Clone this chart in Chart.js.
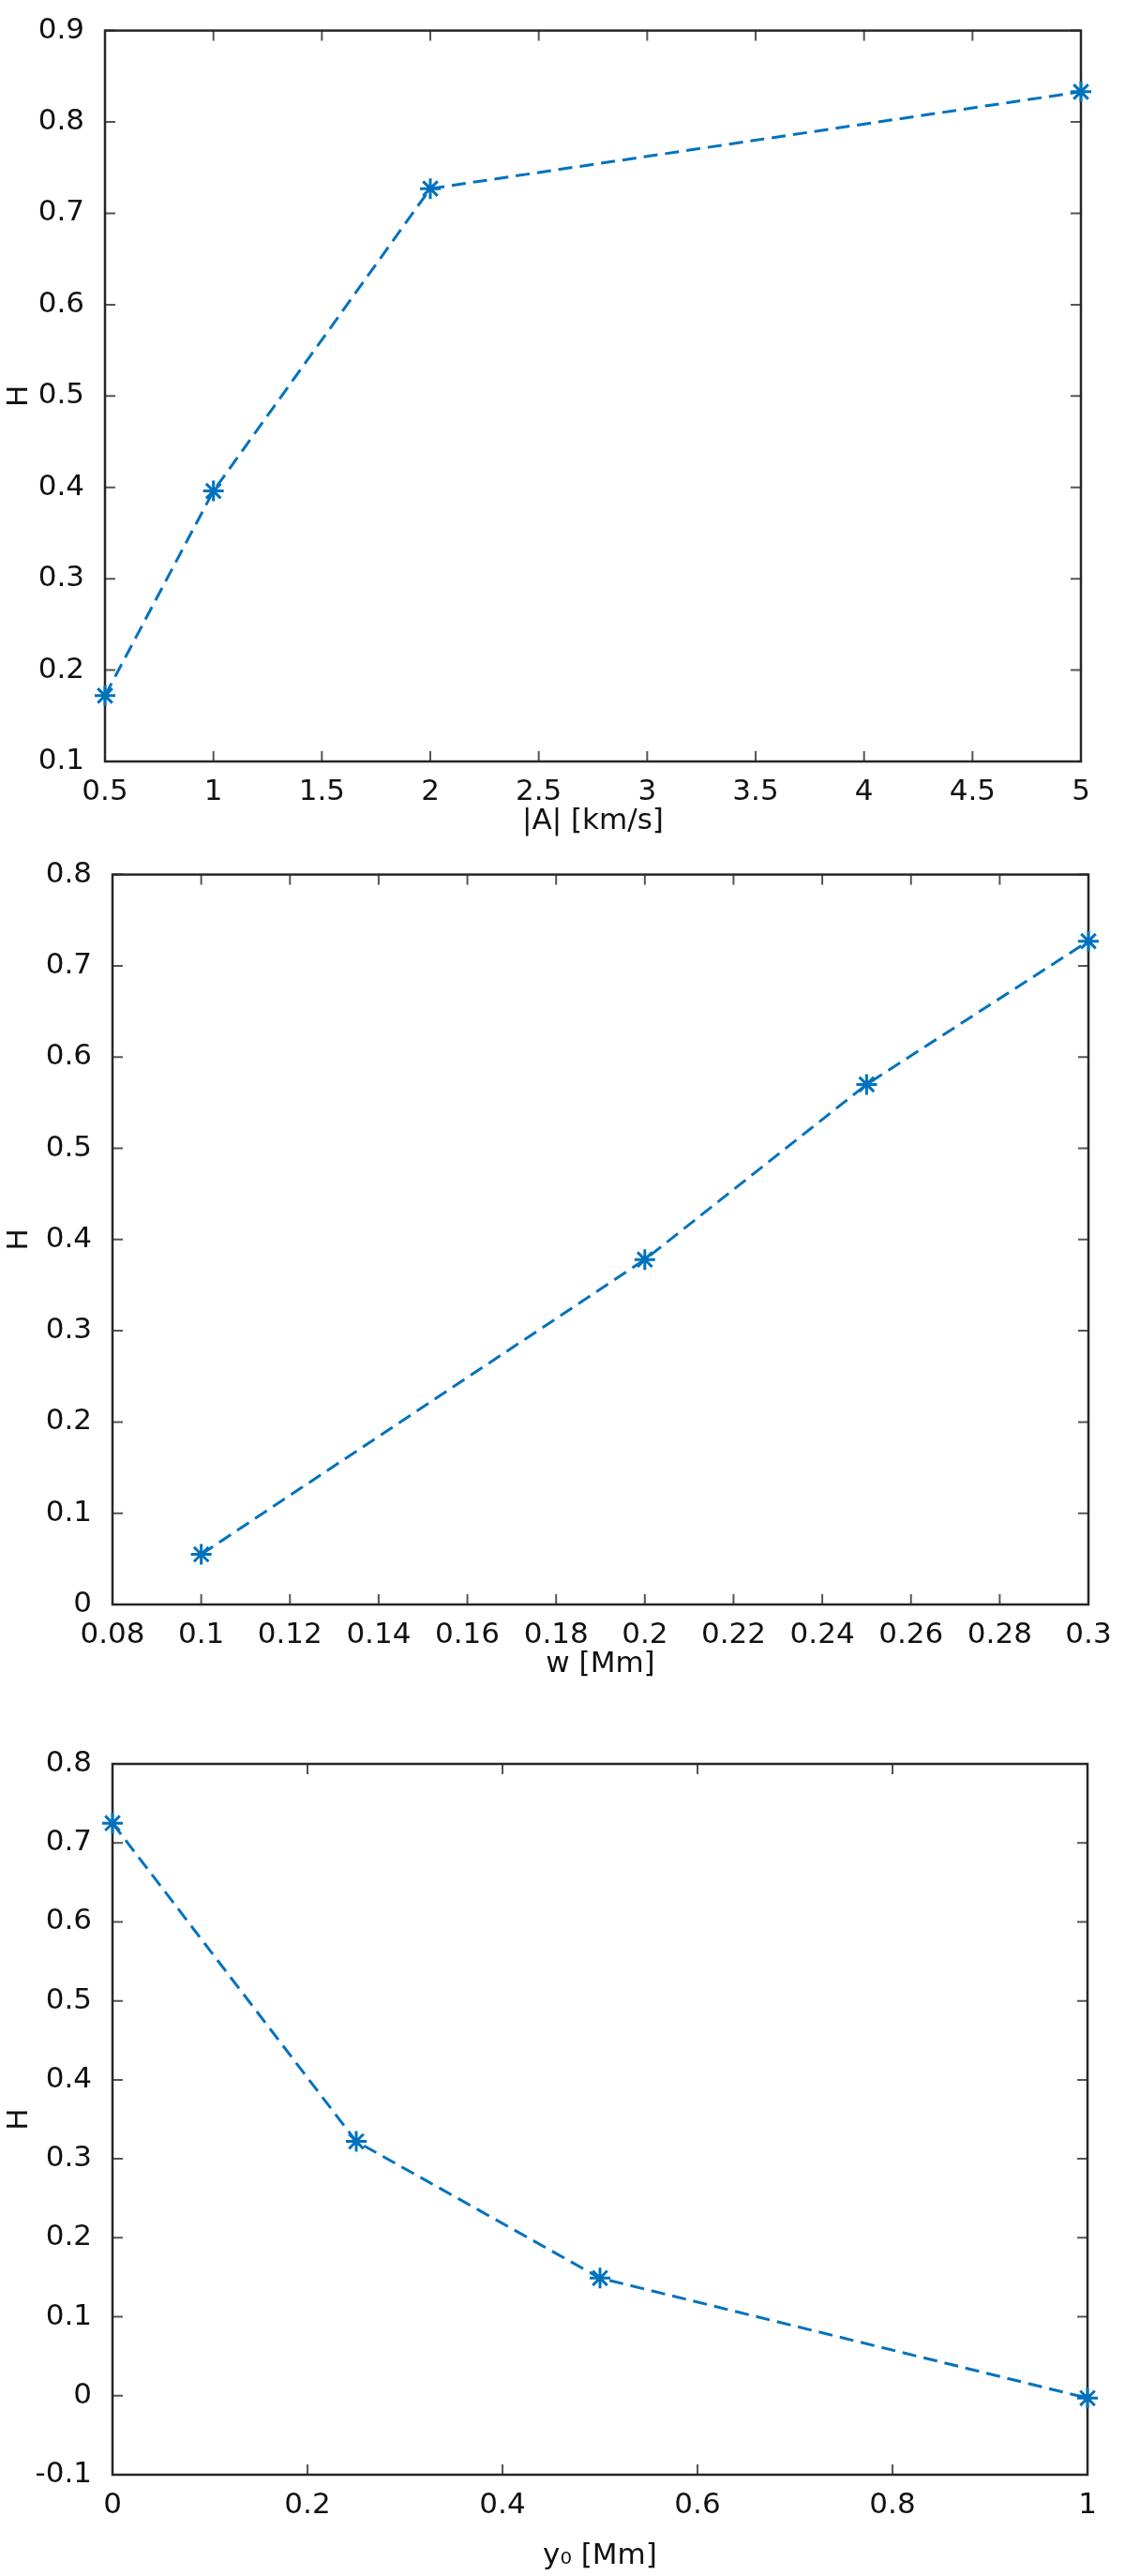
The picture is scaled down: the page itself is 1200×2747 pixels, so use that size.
<!DOCTYPE html>
<html lang="en">
<head>
  <meta charset="UTF-8">
  <title>H vs parameters</title>
  <script src="https://cdn.jsdelivr.net/npm/chart.js"></script>
  <style>
    html, body { margin: 0; padding: 0; background: #fff; }
    .wrap { position: relative; width: 1200px; height: 2747px; }
    canvas { position: absolute; left: 0; }
  </style>
</head>
<body>
  <div class="wrap">
    <canvas id="chartA" width="1200" height="900" style="top:0px"></canvas>
    <canvas id="chartW" width="1200" height="900" style="top:900px"></canvas>
    <canvas id="chartY" width="1200" height="947" style="top:1800px"></canvas>
  </div>

  <script>
    // panel 1: H against |A|
    const ampValues = [0.5, 1, 2, 5];
    const hByAmp = [0.172, 0.396, 0.727, 0.833];
    const ampTicks = [0.5, 1, 1.5, 2, 2.5, 3, 3.5, 4, 4.5, 5];
    const hTicksA = [0.1, 0.2, 0.3, 0.4, 0.5, 0.6, 0.7, 0.8, 0.9];

    // panel 2: H against w
    const widthValues = [0.1, 0.2, 0.25, 0.3];
    const hByWidth = [0.055, 0.378, 0.570, 0.727];
    const widthTicks = [0.08, 0.1, 0.12, 0.14, 0.16, 0.18, 0.2, 0.22, 0.24, 0.26, 0.28, 0.3];
    const hTicksW = [0, 0.1, 0.2, 0.3, 0.4, 0.5, 0.6, 0.7, 0.8];

    // panel 3: H against y0
    const y0Values = [0, 0.25, 0.5, 1];
    const hByY0 = [0.725, 0.322, 0.149, -0.003];
    const y0Ticks = [0, 0.2, 0.4, 0.6, 0.8, 1];
    const hTicksY = [-0.1, 0, 0.1, 0.2, 0.3, 0.4, 0.5, 0.6, 0.7, 0.8];

    const lineBlue = '#0072BD';

    Chart.defaults.font.family = '"DejaVu Sans", "Liberation Sans", sans-serif';
    Chart.defaults.font.size = 31;
    Chart.defaults.color = '#111';

    // box around the plot with inward ticks, like the original figure
    const framePlugin = {
      id: 'frame',
      beforeDatasetsDraw(chart) {
        const { ctx, chartArea: a, scales } = chart;
        ctx.save();
        ctx.strokeStyle = '#555';
        ctx.lineWidth = 2;
        ctx.beginPath();
        scales.x.ticks.forEach(t => {
          const px = scales.x.getPixelForValue(t.value);
          ctx.moveTo(px, a.bottom); ctx.lineTo(px, a.bottom - 11);
          ctx.moveTo(px, a.top); ctx.lineTo(px, a.top + 11);
        });
        scales.y.ticks.forEach(t => {
          const py = scales.y.getPixelForValue(t.value);
          ctx.moveTo(a.left, py); ctx.lineTo(a.left + 11, py);
          ctx.moveTo(a.right, py); ctx.lineTo(a.right - 11, py);
        });
        ctx.stroke();
        ctx.strokeStyle = '#262626';
        ctx.lineWidth = 2.5;
        ctx.strokeRect(a.left, a.top, a.right - a.left, a.bottom - a.top);
        ctx.restore();
      }
    };

    function makePanel(id, xs, ys, xTicks, yTicks, xTitle, box) {
      const canvas = document.getElementById(id);
      const points = xs.map((x, i) => ({ x: x, y: ys[i] }));

      new Chart(canvas, {
        type: 'line',
        data: {
          datasets: [{
            data: points,
            borderColor: lineBlue,
            borderWidth: 3,
            borderDash: [15, 8],
            pointStyle: 'star',
            pointRadius: 11,
            pointBorderWidth: 3,
            pointBorderColor: lineBlue,
            pointBackgroundColor: lineBlue,
            clip: false,
            tension: 0
          }]
        },
        options: {
          responsive: false,
          animation: false,
          events: [],
          layout: { padding: { left: 0, top: box.top, right: canvas.width - box.right, bottom: 0 } },
          plugins: { legend: { display: false }, tooltip: { enabled: false } },
          scales: {
            x: {
              type: 'linear',
              min: xTicks[0],
              max: xTicks[xTicks.length - 1],
              grid: { display: false },
              border: { display: false },
              afterBuildTicks: s => { s.ticks = xTicks.map(v => ({ value: v })); },
              afterFit: s => { s.height = canvas.height - box.bottom; },
              ticks: { padding: 6, maxRotation: 0, autoSkip: false, callback: v => String(v) },
              title: { display: true, text: xTitle, padding: { top: 0, bottom: box.titlePad } }
            },
            y: {
              min: yTicks[0],
              max: yTicks[yTicks.length - 1],
              grid: { display: false },
              border: { display: false },
              afterBuildTicks: s => { s.ticks = yTicks.map(v => ({ value: v })); },
              afterFit: s => { s.width = box.left; },
              ticks: { padding: 14, autoSkip: false, callback: v => String(v) },
              title: { display: true, text: 'H', padding: { top: 2, bottom: 0 } }
            }
          }
        },
        plugins: [framePlugin]
      });
    }

    makePanel('chartA', ampValues, hByAmp, ampTicks, hTicksA, '|A| [km/s]',
      { left: 112, top: 28, right: 1153, bottom: 812, titlePad: 5 });
    makePanel('chartW', widthValues, hByWidth, widthTicks, hTicksW, 'w [Mm]',
      { left: 120, top: 27, right: 1161, bottom: 811, titlePad: 6 });
    makePanel('chartY', y0Values, hByY0, y0Ticks, hTicksY, 'y\u2080 [Mm]',
      { left: 120, top: 81, right: 1160, bottom: 839, titlePad: 2 });
  </script>
</body>
</html>
